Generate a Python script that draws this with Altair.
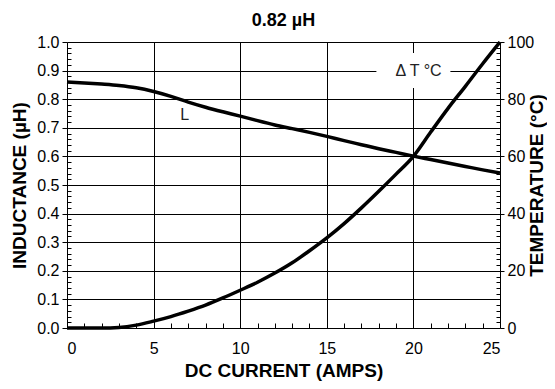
import altair as alt
import pandas as pd

# ---- data ----
current = list(range(26))
inductance = [0.860, 0.857, 0.853, 0.848, 0.840, 0.827, 0.810, 0.790, 0.772, 0.756,
              0.741, 0.725, 0.710, 0.697, 0.684, 0.670, 0.655, 0.641, 0.627, 0.614,
              0.601, 0.589, 0.577, 0.565, 0.553, 0.542]
temperature = [0.0, 0.0, 0.0, 0.2, 1.0, 2.4, 4.0, 5.9, 8.0, 10.5,
               13.2, 16.0, 19.2, 22.8, 27.0, 31.5, 36.5, 42.0, 47.8, 53.8,
               60.0, 68.5, 76.8, 84.5, 92.4, 100.0]

x_major = [0, 5, 10, 15, 20, 25]
x_minor = [i for i in range(26) if i % 5]
l_major = [round(0.1 * i, 1) for i in range(11)]
l_minor = [round(0.02 * i, 2) for i in range(51) if i % 5]
t_major = [0, 20, 40, 60, 80, 100]
t_minor = [2 * i for i in range(51) if i % 5]

ann_text = ["L", "\u0394 T \u00b0C"]
ann_x = [6.8, 20.3]
ann_y = [0.745, 0.9]
box_x = [20.0]
box_y = [0.9]

FONT = "Liberation Sans"

df = pd.DataFrame({"current": current, "L": inductance, "T": temperature})
ann = pd.DataFrame({"text": ann_text, "x": ann_x, "y": ann_y})
box = pd.DataFrame({"x": box_x, "y": box_y})

xs = alt.Scale(domain=[0, 25], nice=False, zero=False)
ls = alt.Scale(domain=[0, 1], nice=False)
ts = alt.Scale(domain=[0, 100], nice=False)

base = alt.Chart(df)

l_line = base.mark_line(color="black", strokeWidth=3.5, interpolate="monotone").encode(
    x=alt.X("current:Q", scale=xs, axis=alt.Axis(
        orient="bottom", values=x_major, title="DC CURRENT (AMPS)", grid=True,
        gridColor="black", gridWidth=1, tickSize=0, labelPadding=12,
        labelFontSize=16, titleFontSize=19, titleFontWeight="bold",
        titleBaseline="middle", titleY=42, domain=False)),
    y=alt.Y("L:Q", scale=ls, axis=alt.Axis(
        orient="left", values=l_major, format=".1f", title="INDUCTANCE (\u00b5H)",
        grid=True, gridColor="black", gridWidth=1, tickSize=5, tickColor="black",
        labelPadding=3, labelFontSize=16, titleFontSize=19, titleFontWeight="bold",
        titleBaseline="middle", titleX=-48, titleY=143, domain=False)),
)

t_line = base.mark_line(color="black", strokeWidth=3.5, interpolate="monotone").encode(
    x=alt.X("current:Q", scale=xs, axis=None),
    y=alt.Y("T:Q", scale=ts, axis=alt.Axis(
        orient="right", values=t_major, title="TEMPERATURE (\u00b0C)", grid=False,
        tickSize=4, tickColor="black", labelPadding=3, labelFontSize=16,
        titleFontSize=19, titleFontWeight="bold", titleBaseline="middle",
        titleAngle=270, titleX=36, titleY=143, domain=False)),
)

minor_lx = base.mark_point(opacity=0).encode(
    x=alt.X("current:Q", scale=xs, axis=alt.Axis(
        orient="bottom", values=x_minor, labels=False, grid=False, domain=False,
        title=None, tickSize={"expr": "-5"}, tickColor="black", tickWidth=1)),
    y=alt.Y("L:Q", scale=ls, axis=alt.Axis(
        orient="left", values=l_minor, labels=False, grid=False, domain=False,
        title=None, tickSize={"expr": "-4"}, tickColor="black", tickWidth=1)),
)

minor_t = base.mark_point(opacity=0).encode(
    x=alt.X("current:Q", scale=xs, axis=None),
    y=alt.Y("T:Q", scale=ts, axis=alt.Axis(
        orient="right", values=t_minor, labels=False, grid=False, domain=False,
        title=None, tickSize={"expr": "-4"}, tickColor="black", tickWidth=1)),
)

box_layer = alt.Chart(box).mark_point(
    shape="M-1,-0.473L1,-0.473L1,0.473L-1,0.473Z", size=5476,
    filled=True, color="white", opacity=1, strokeWidth=0).encode(
    x=alt.X("x:Q", scale=xs, axis=None),
    y=alt.Y("y:Q", scale=ls, axis=None),
)

text_layer = alt.Chart(ann).mark_text(
    font=FONT, fontSize=16, color="#222", align="center", baseline="middle").encode(
    x=alt.X("x:Q", scale=xs, axis=None),
    y=alt.Y("y:Q", scale=ls, axis=None),
    text="text:N",
)

chart = alt.layer(
    box_layer, l_line, t_line, minor_lx, minor_t, text_layer
).resolve_scale(y="independent").resolve_axis(x="independent", y="independent").properties(
    width=433, height=286,
    title=alt.TitleParams("0.82 \u00b5H", font=FONT, fontSize=18, fontWeight="bold",
                          anchor="middle", offset=4, color="black"),
    autosize=alt.AutoSizeParams(type="none"),
    padding={"left": 59, "top": 34, "right": 47, "bottom": 53},
).configure_view(stroke="black", strokeWidth=2).configure_axis(
    labelFont=FONT, titleFont=FONT, labelColor="black", titleColor="black"
).configure(background="white")

chart.save("out.html", embed_options={"renderer": "svg", "actions": False})
